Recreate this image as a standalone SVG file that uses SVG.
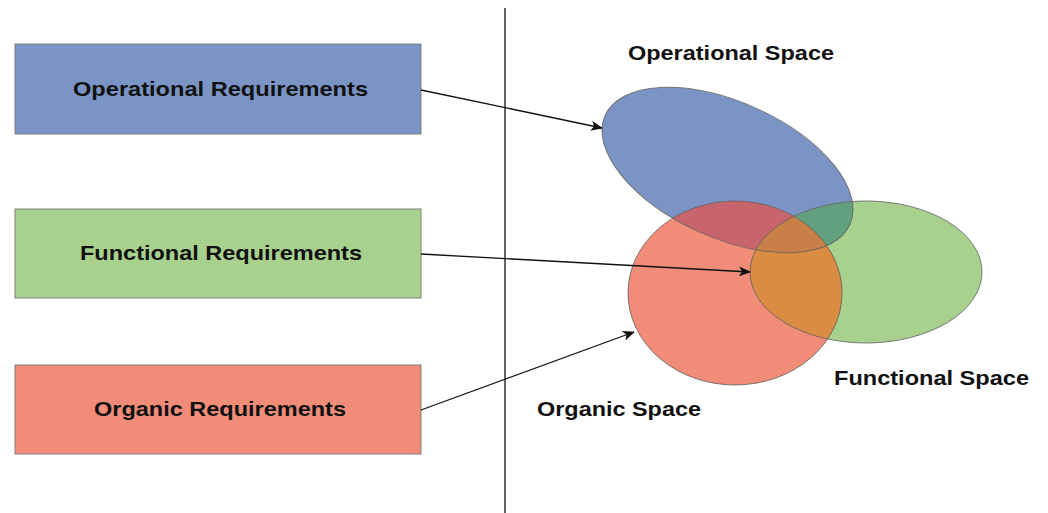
<svg xmlns="http://www.w3.org/2000/svg" width="1048" height="513" viewBox="0 0 1048 513">
<style>
.box{stroke:#7f7f7f;stroke-width:1}
.lbl{font-family:"Liberation Sans",Arial,sans-serif;font-weight:bold;font-size:21px;fill:#111;text-anchor:middle}
.edge{stroke:#111;stroke-width:1.3;fill:none;marker-end:url(#ah)}
.outl{fill:none;stroke:#5f5f5f;stroke-width:1;stroke-opacity:0.8}
</style>
<defs>
<marker id="ah" viewBox="0 0 12 10" refX="11" refY="5" markerWidth="12" markerHeight="10" markerUnits="userSpaceOnUse" orient="auto">
<path d="M0,0 L12,5 L0,10 L3,5 Z" fill="#111"/>
</marker>
<ellipse id="eB" cx="727.5" cy="170" rx="134" ry="68" transform="rotate(24 727.5 170)"/>
<ellipse id="eR" cx="735" cy="293" rx="107" ry="92"/>
<ellipse id="eG" cx="866" cy="272" rx="116" ry="71"/>
<clipPath id="cB"><use href="#eB"/></clipPath>
<clipPath id="cR"><use href="#eR"/></clipPath>
<clipPath id="cG"><use href="#eG"/></clipPath>
</defs>
<rect width="1048" height="513" fill="#fff"/>
<line x1="505" y1="8" x2="505" y2="513" stroke="#333" stroke-width="1.5"/>
<g id="node-operational-req">
<rect class="box" x="15" y="44" width="406" height="90" fill="#7a95c5"/>
<text class="lbl" x="220.5" y="96" textLength="295" lengthAdjust="spacingAndGlyphs">Operational Requirements</text>
</g>
<g id="node-functional-req">
<rect class="box" x="15" y="209" width="406" height="89" fill="#a9d18e"/>
<text class="lbl" x="221" y="260" textLength="282" lengthAdjust="spacingAndGlyphs">Functional Requirements</text>
</g>
<g id="node-organic-req">
<rect class="box" x="15" y="365" width="406" height="89" fill="#f08c78"/>
<text class="lbl" x="220" y="416" textLength="252" lengthAdjust="spacingAndGlyphs">Organic Requirements</text>
</g>
<g id="node-spaces">
<use href="#eB" fill="#7a95c5"/>
<use href="#eG" fill="#a9d18e"/>
<use href="#eR" fill="#f08c78"/>
<g clip-path="url(#cB)"><use href="#eR" fill="#c8646b"/><use href="#eG" fill="#62a17f"/></g>
<g clip-path="url(#cR)"><use href="#eG" fill="#d98c42"/></g>
<g clip-path="url(#cB)"><g clip-path="url(#cR)"><use href="#eG" fill="#c98048"/></g></g>
<use href="#eB" class="outl"/>
<use href="#eG" class="outl"/>
<use href="#eR" class="outl"/>
</g>
<g id="node-operational-space"><text class="lbl" x="731" y="60" textLength="206" lengthAdjust="spacingAndGlyphs">Operational Space</text></g>
<g id="node-functional-space"><text class="lbl" x="931.5" y="385" textLength="195" lengthAdjust="spacingAndGlyphs">Functional Space</text></g>
<g id="node-organic-space"><text class="lbl" x="619" y="416" textLength="164" lengthAdjust="spacingAndGlyphs">Organic Space</text></g>
<g id="connectors">
<line class="edge" x1="421" y1="90" x2="602" y2="128"/>
<line class="edge" x1="421" y1="254" x2="750" y2="272"/>
<line class="edge" x1="421" y1="410" x2="634" y2="332"/>
</g>
</svg>
